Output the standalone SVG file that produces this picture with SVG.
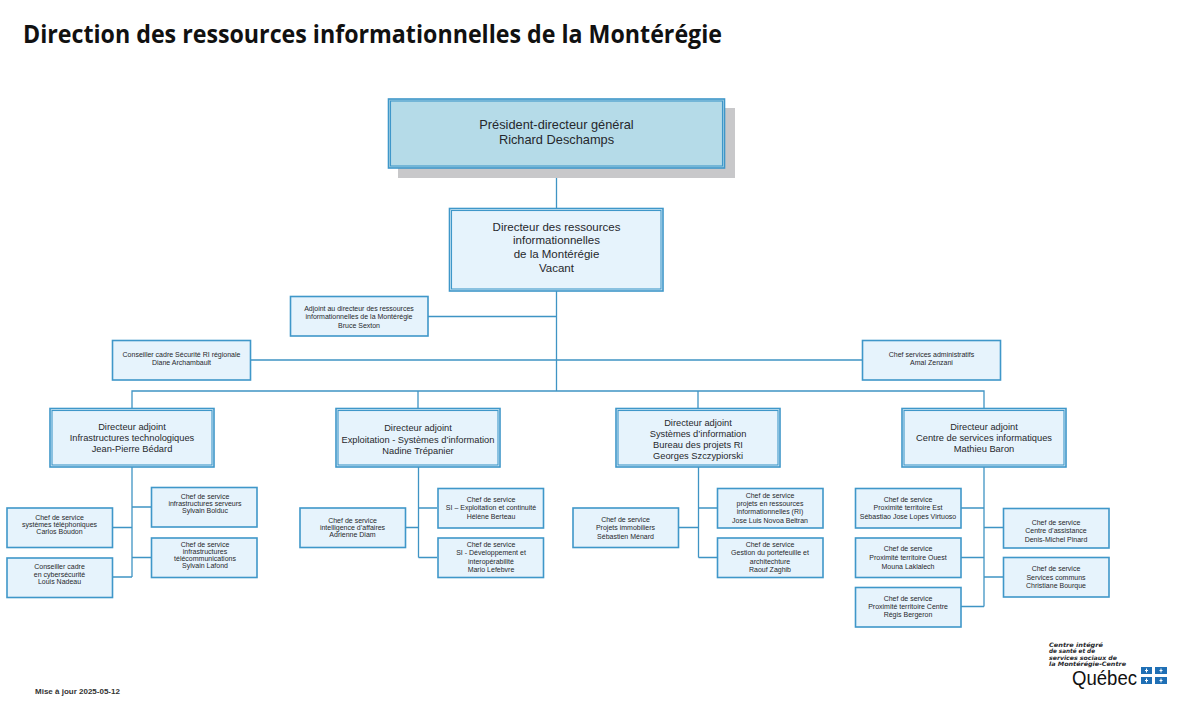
<svg xmlns="http://www.w3.org/2000/svg" width="1200" height="712" viewBox="0 0 1200 712">
<style>
text{font-family:"Liberation Sans",Arial,sans-serif;fill:#26282c;text-anchor:middle}
.box{fill:#e6f3fc;stroke:#3f97c9;stroke-width:1.6}
.inner{fill:none;stroke:#3f97c9;stroke-width:1.1}
.top{fill:#b5dbe8}
.l{font-size:11.5px}
.m{font-size:9.300px}
.s{font-size:7px}
.xl{font-size:12.800px}
.lines path{fill:none;stroke:#3f94c4;stroke-width:1.3}
.flag{fill:#1f6fb5}
.cross{fill:#fff}
.logo{text-anchor:start;font-family:"DejaVu Sans",sans-serif;font-weight:700;font-style:italic;font-size:6px}
</style>
<rect width="1200" height="712" fill="#fff"/>
<text x="23" y="43" style="text-anchor:start;font-family:'Open Sans','Liberation Sans',sans-serif;font-weight:700;fill:#111" font-size="24.500" textLength="699" lengthAdjust="spacingAndGlyphs">Direction des ressources informationnelles de la Montérégie</text>
<g class="lines" id="connectors">
<path d="M556.500 168V391M428 316.500H556.500M251 360H862M132 408V391H984V408M418 391V408M698 391V408"/>
<path d="M132 467V577M132 507H151M132 557.500H151M113 527.500H132M113 577H132"/>
<path d="M418.500 467V557.500M418.500 508H437M418.500 557.500H437M406 527.500H418.500"/>
<path d="M698.500 467V557.500M698.500 508H717M698.500 557.500H717M679 527.500H698.500"/>
<path d="M984 467V606.500M961 508H984M961 557.500H984M961 606.500H984M984 527.500H1003M984 577H1003"/>
</g>
<g id="pdg">
<rect x="398" y="108" width="337" height="70" fill="#c8c8ca"/>
<rect class="box top" x="388.500" y="99" width="336" height="69"/>
<rect class="inner" x="390.500" y="101" width="332" height="65"/>
<text class="xl" x="556.500" y="129">Président-directeur général</text>
<text class="xl" x="556.500" y="144">Richard Deschamps</text>
</g>
<g id="directeur">
<rect class="box" x="449.500" y="208.500" width="213.500" height="82.500"/>
<rect class="inner" x="451.500" y="210.500" width="209.500" height="78.500"/>
<text class="l" x="556.500" y="230.500">Directeur des ressources</text>
<text class="l" x="556.500" y="244">informationnelles</text>
<text class="l" x="556.500" y="258">de la Montérégie</text>
<text class="l" x="556.500" y="272">Vacant</text>
</g>
<g id="adjoint">
<rect class="box" x="290.500" y="296.500" width="137.500" height="39.500"/>
<text class="s" x="359" y="310.500">Adjoint au directeur des ressources</text>
<text class="s" x="359" y="318.500">informationnelles de la Montérégie</text>
<text class="s" x="359" y="327.500">Bruce Sexton</text>
</g>
<g id="conseiller-securite">
<rect class="box" x="112.500" y="340.500" width="138" height="39.500"/>
<text class="s" x="181.500" y="357">Conseiller cadre Sécurité RI régionale</text>
<text class="s" x="181.500" y="365">Diane Archambault</text>
</g>
<g id="chef-admin">
<rect class="box" x="862.500" y="340.500" width="138" height="39.500"/>
<text class="s" x="931.500" y="357">Chef services administratifs</text>
<text class="s" x="931.500" y="365">Amal Zenzani</text>
</g>
<g id="da1">
<rect class="box" x="50" y="408.500" width="164" height="58.500"/>
<rect class="inner" x="52" y="410.500" width="160" height="54.500"/>
<text class="m" x="132" y="430">Directeur adjoint</text>
<text class="m" x="132" y="441">Infrastructures technologiques</text>
<text class="m" x="132" y="451.500">Jean-Pierre Bédard</text>
</g>
<g id="da2">
<rect class="box" x="336" y="408.500" width="164" height="58.500"/>
<rect class="inner" x="338" y="410.500" width="160" height="54.500"/>
<text class="m" x="418" y="431">Directeur adjoint</text>
<text class="m" x="418" y="442.500">Exploitation - Systèmes d’information</text>
<text class="m" x="418" y="453.500">Nadine Trépanier</text>
</g>
<g id="da3">
<rect class="box" x="616" y="408.500" width="164" height="58.500"/>
<rect class="inner" x="618" y="410.500" width="160" height="54.500"/>
<text class="m" x="698" y="425.500">Directeur adjoint</text>
<text class="m" x="698" y="437">Systèmes d’information</text>
<text class="m" x="698" y="447.500">Bureau des projets RI</text>
<text class="m" x="698" y="459">Georges Szczypiorski</text>
</g>
<g id="da4">
<rect class="box" x="902" y="408.500" width="164" height="58.500"/>
<rect class="inner" x="904" y="410.500" width="160" height="54.500"/>
<text class="m" x="984" y="430">Directeur adjoint</text>
<text class="m" x="984" y="440.500">Centre de services informatiques</text>
<text class="m" x="984" y="452">Mathieu Baron</text>
</g>
<g id="c1">
<rect class="box" x="151.500" y="487.500" width="105.500" height="39.500"/>
<text class="s" x="205" y="499">Chef de service</text>
<text class="s" x="205" y="506">infrastructures serveurs</text>
<text class="s" x="205" y="513">Sylvain Bolduc</text>
</g>
<g id="c2">
<rect class="box" x="151.500" y="538" width="105.500" height="39.500"/>
<text class="s" x="205" y="547">Chef de service</text>
<text class="s" x="205" y="554">infrastructures</text>
<text class="s" x="205" y="560.500">télécommunications</text>
<text class="s" x="205" y="567.500">Sylvain Lafond</text>
</g>
<g id="c3">
<rect class="box" x="7" y="508" width="105.500" height="39.500"/>
<text class="s" x="59.500" y="520">Chef de service</text>
<text class="s" x="59.500" y="527">systèmes téléphoniques</text>
<text class="s" x="59.500" y="534">Carlos Boudon</text>
</g>
<g id="c4">
<rect class="box" x="7" y="558" width="105.500" height="39.500"/>
<text class="s" x="59.500" y="569">Conseiller cadre</text>
<text class="s" x="59.500" y="577">en cybersécurité</text>
<text class="s" x="59.500" y="584">Louis Nadeau</text>
</g>
<g id="c5">
<rect class="box" x="300" y="508" width="105.500" height="39.500"/>
<text class="s" x="352.500" y="523">Chef de service</text>
<text class="s" x="352.500" y="530">intelligence d’affaires</text>
<text class="s" x="352.500" y="537">Adrienne Diam</text>
</g>
<g id="c6">
<rect class="box" x="438" y="488.500" width="105.500" height="39.500"/>
<text class="s" x="491" y="502">Chef de service</text>
<text class="s" x="491" y="510">SI – Exploitation et continuité</text>
<text class="s" x="491" y="519">Hélène Berteau</text>
</g>
<g id="c7">
<rect class="box" x="438" y="538" width="105.500" height="39.500"/>
<text class="s" x="491" y="547">Chef de service</text>
<text class="s" x="491" y="555">SI - Développement et</text>
<text class="s" x="491" y="564">interopérabilité</text>
<text class="s" x="491" y="572">Mario Lefebvre</text>
</g>
<g id="c8">
<rect class="box" x="573" y="508" width="105.500" height="39.500"/>
<text class="s" x="625.500" y="521.500">Chef de service</text>
<text class="s" x="625.500" y="530">Projets immobiliers</text>
<text class="s" x="625.500" y="539">Sébastien Ménard</text>
</g>
<g id="c9">
<rect class="box" x="717.500" y="488.500" width="105.500" height="39.500"/>
<text class="s" x="770" y="498">Chef de service</text>
<text class="s" x="770" y="506">projets en ressources</text>
<text class="s" x="770" y="514">informationnelles (RI)</text>
<text class="s" x="770" y="523">Jose Luis Novoa Beltran</text>
</g>
<g id="c10">
<rect class="box" x="717.500" y="538" width="105.500" height="39.500"/>
<text class="s" x="770" y="547">Chef de service</text>
<text class="s" x="770" y="555">Gestion du portefeuille et</text>
<text class="s" x="770" y="564">architechture</text>
<text class="s" x="770" y="572">Raouf Zaghib</text>
</g>
<g id="c11">
<rect class="box" x="855.500" y="488.500" width="105.500" height="39.500"/>
<text class="s" x="908" y="502">Chef de service</text>
<text class="s" x="908" y="510">Proximité territoire Est</text>
<text class="s" x="908" y="519">Sébastiao Jose Lopes Virtuoso</text>
</g>
<g id="c12">
<rect class="box" x="855.500" y="538" width="105.500" height="39.500"/>
<text class="s" x="908" y="551">Chef de service</text>
<text class="s" x="908" y="560">Proximité territoire Ouest</text>
<text class="s" x="908" y="568.500">Mouna Laklalech</text>
</g>
<g id="c13">
<rect class="box" x="855.500" y="587.500" width="105.500" height="39.500"/>
<text class="s" x="908" y="600.500">Chef de service</text>
<text class="s" x="908" y="609">Proximité territoire Centre</text>
<text class="s" x="908" y="617">Régis Bergeron</text>
</g>
<g id="c14">
<rect class="box" x="1003.500" y="508.500" width="105.500" height="39.500"/>
<text class="s" x="1056" y="525">Chef de service</text>
<text class="s" x="1056" y="533">Centre d’assistance</text>
<text class="s" x="1056" y="541.500">Denis-Michel Pinard</text>
</g>
<g id="c15">
<rect class="box" x="1003.500" y="557.500" width="105.500" height="39.500"/>
<text class="s" x="1056" y="571">Chef de service</text>
<text class="s" x="1056" y="580">Services communs</text>
<text class="s" x="1056" y="588">Christiane Bourque</text>
</g>
<text x="35" y="694" style="text-anchor:start;font-weight:700;fill:#333" font-size="8">Mise à jour 2025-05-12</text>
<g id="logo">
<text class="logo" x="1049" y="646.500" textLength="54" lengthAdjust="spacingAndGlyphs">Centre intégré</text>
<text class="logo" x="1049" y="653" textLength="46" lengthAdjust="spacingAndGlyphs">de santé et de</text>
<text class="logo" x="1049" y="659.500" textLength="68" lengthAdjust="spacingAndGlyphs">services sociaux de</text>
<text class="logo" x="1049" y="666" textLength="77" lengthAdjust="spacingAndGlyphs">la Montérégie-Centre</text>
<text x="1072" y="685" style="text-anchor:start;fill:#111" font-size="20" textLength="65" lengthAdjust="spacingAndGlyphs">Québec</text>
<path class="flag" d="M1141 667h11v7h-11zM1155 667h12v7h-12zM1141 677h11v7h-11zM1155 677h12v7h-12z"/>
<path class="cross" d="M1145 670h3v1h-3zM1146 668.500h1v4h-1zM1159.500 670h3v1h-3zM1160.500 668.500h1v4h-1zM1145 680h3v1h-3zM1146 678.500h1v4h-1zM1159.500 680h3v1h-3zM1160.500 678.500h1v4h-1z"/>
</g>
</svg>
